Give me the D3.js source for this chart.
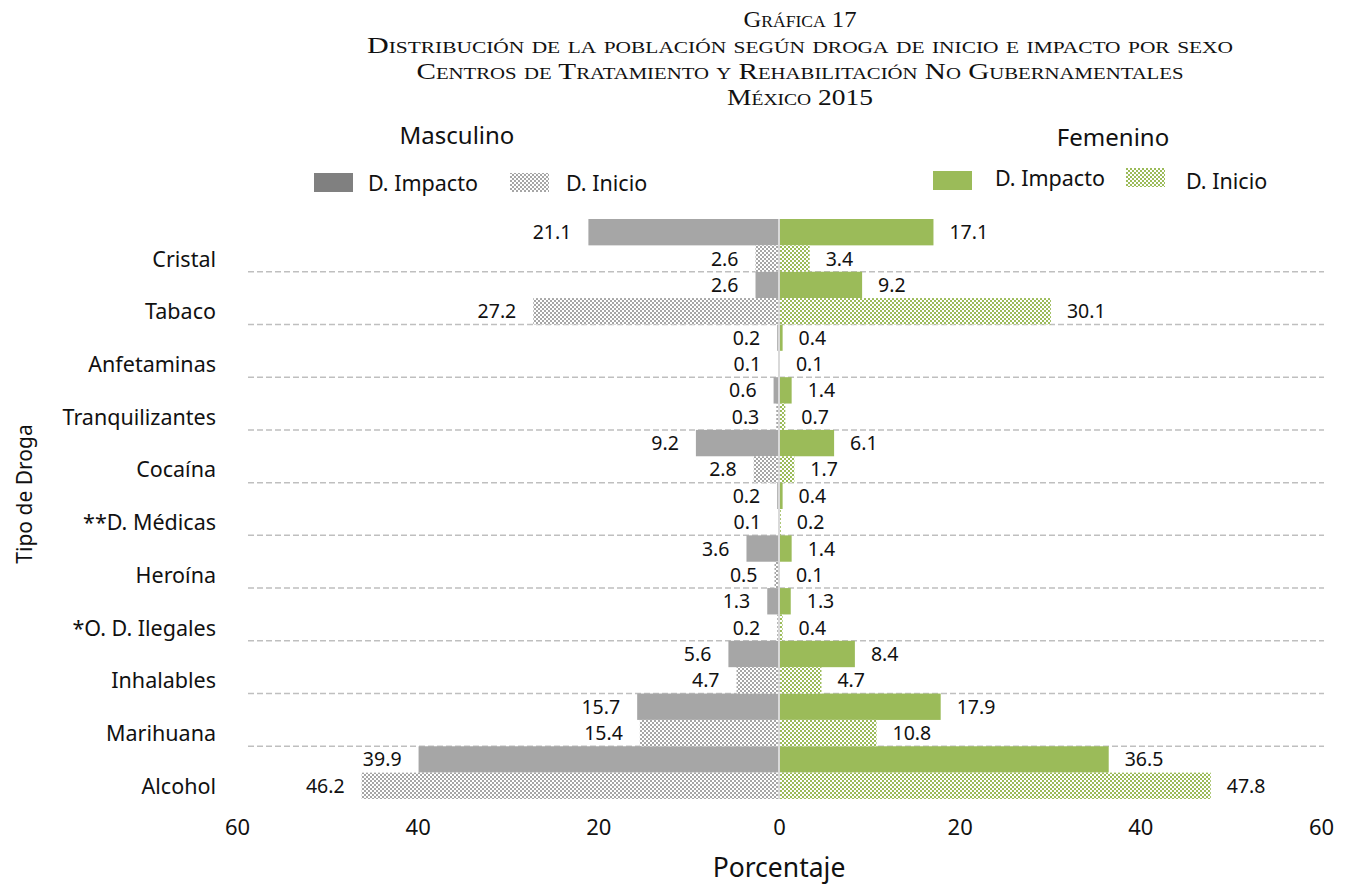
<!DOCTYPE html>
<html><head><meta charset="utf-8">
<script src="https://cdn.jsdelivr.net/npm/d3@7"></script>
<style>
body{margin:0;background:#fff;}
svg{display:block;}
.t{font-family:"Liberation Serif","DejaVu Serif",serif;font-variant:small-caps;fill:#111;}
.s{font-family:"Noto Sans","Open Sans",sans-serif;fill:#111;}
</style></head>
<body>
<svg id="c" width="1351" height="884"></svg>
<script>
const categories = ["Cristal","Tabaco","Anfetaminas","Tranquilizantes","Cocaína","**D. Médicas","Heroína","*O. D. Ilegales","Inhalables","Marihuana","Alcohol"];
const maleImpacto   = [21.1, 2.6, 0.2, 0.6, 9.2, 0.2, 3.6, 1.3, 5.6, 15.7, 39.9];
const maleInicio    = [2.6, 27.2, 0.1, 0.3, 2.8, 0.1, 0.5, 0.2, 4.7, 15.4, 46.2];
const femaleImpacto = [17.1, 9.2, 0.4, 1.4, 6.1, 0.4, 1.4, 1.3, 8.4, 17.9, 36.5];
const femaleInicio  = [3.4, 30.1, 0.1, 0.7, 1.7, 0.2, 0.1, 0.4, 4.7, 10.8, 47.8];
const tickValues = [-60, -40, -20, 0, 20, 40, 60];
const titleLines = ["Gráfica 17","Distribución de la población según droga de inicio e impacto por sexo","Centros de Tratamiento y Rehabilitación No Gubernamentales","México 2015"];
const titleWidths = [113, 866, 767, 146];

const svg = d3.select("#c");
const gray = "#a6a6a6", green = "#9bbb59";
const defs = svg.append("defs");
function pat(id, col){
  const p = defs.append("pattern").attr("id", id).attr("width",4).attr("height",4).attr("patternUnits","userSpaceOnUse");
  p.append("rect").attr("width",4).attr("height",4).attr("fill",col);
  p.append("rect").attr("x",0).attr("y",0).attr("width",2).attr("height",2).attr("fill","#fff");
  p.append("rect").attr("x",2).attr("y",2).attr("width",2).attr("height",2).attr("fill","#fff");
}
pat("pg", gray); pat("pgr", green);

const x = d3.scaleLinear().domain([-60,60]).range([237,1321]);
const y = d3.scaleBand().domain(categories).range([219,799]).paddingInner(0);
const bw = y.bandwidth();

// title
titleLines.forEach((t,i)=>{
  svg.append("text").attr("class","t").attr("x",800).attr("y",27+i*26)
    .attr("text-anchor","middle").attr("font-size",22.5)
    .attr("textLength",titleWidths[i]).attr("lengthAdjust","spacingAndGlyphs").text(t);
});

// dashed separators
categories.slice(0,-1).forEach(c=>{
  svg.append("line").attr("x1",248).attr("x2",1324)
    .attr("y1",y(c)+bw).attr("y2",y(c)+bw)
    .attr("stroke","#bfbfbf").attr("stroke-width",1.5).attr("stroke-dasharray","6,3");
});

const g = svg.append("g");
function bars(vals, sign, half, fill){
  g.selectAll(null).data(categories).enter().append("rect")
    .attr("x", (c,i)=> sign<0 ? x(-vals[i]) : x(0))
    .attr("y", c=> y(c) + (half===0?0:bw/2))
    .attr("width",(c,i)=> Math.abs(x(vals[i])-x(0)))
    .attr("height", bw/2)
    .attr("fill", fill);
  g.selectAll(null).data(categories).enter().append("text").attr("class","s")
    .attr("x",(c,i)=> sign<0 ? x(-vals[i]) - 17 : x(vals[i]) + 16)
    .attr("y", c=> y(c) + (half===0?bw/4:bw*3/4) + 7)
    .attr("text-anchor", sign<0?"end":"start")
    .attr("font-size",19.5).attr("fill","#222")
    .text((c,i)=> vals[i].toFixed(1));
}
bars(maleImpacto,-1,0,gray);
bars(maleInicio,-1,1,"url(#pg)");
bars(femaleImpacto,1,0,green);
bars(femaleInicio,1,1,"url(#pgr)");

// center line
svg.append("line").attr("x1",x(0)).attr("x2",x(0)).attr("y1",219).attr("y2",799)
  .attr("stroke","#d9d9d9").attr("stroke-width",2);

// category labels
svg.selectAll(null).data(categories).enter().append("text").attr("class","s")
  .attr("x",216).attr("y",c=>y(c)+bw*3/4+8).attr("text-anchor","end")
  .attr("font-size",21.5).text(c=>c);

// x axis
const ax = svg.append("g").attr("transform","translate(0,805)")
  .call(d3.axisBottom(x).tickValues(tickValues).tickFormat(d=>Math.abs(d)).tickSize(0).tickPadding(14));
ax.select(".domain").remove();
ax.selectAll("text").attr("class","s").attr("font-size",22).attr("fill","#111")
  .attr("font-family","Noto Sans, Open Sans, sans-serif");

svg.append("text").attr("class","s").attr("x",779).attr("y",877).attr("text-anchor","middle")
  .attr("font-size",26.5).text("Porcentaje");
svg.append("text").attr("class","s").attr("transform","translate(32,494) rotate(-90)")
  .attr("text-anchor","middle").attr("font-size",21).text("Tipo de Droga");

// legends
svg.append("text").attr("class","s").attr("x",457).attr("y",144).attr("text-anchor","middle").attr("font-size",24).text("Masculino");
svg.append("text").attr("class","s").attr("x",1113).attr("y",146).attr("text-anchor","middle").attr("font-size",24).text("Femenino");
const legend = [
  {x:314,y:173,fill:"#808080",tx:368,ty:191,label:"D. Impacto"},
  {x:510,y:173,fill:"url(#pg)",tx:566,ty:191,label:"D. Inicio"},
  {x:933,y:171,fill:green,tx:995,ty:186,label:"D. Impacto"},
  {x:1126,y:168,fill:"url(#pgr)",tx:1186,ty:189,label:"D. Inicio"}
];
legend.forEach(l=>{
  svg.append("rect").attr("x",l.x).attr("y",l.y).attr("width",39).attr("height",19).attr("fill",l.fill);
  svg.append("text").attr("class","s").attr("x",l.tx).attr("y",l.ty).attr("font-size",21.5).text(l.label);
});
</script>
</body></html>
